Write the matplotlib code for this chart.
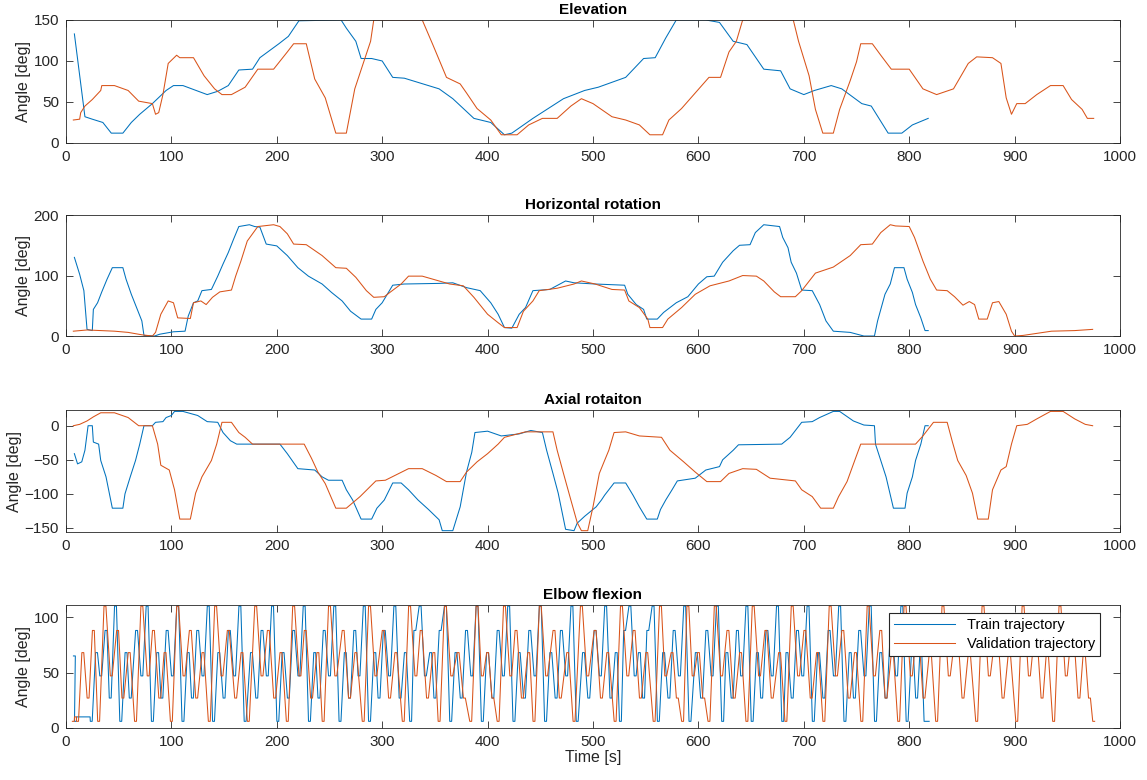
import numpy as np
import matplotlib.pyplot as plt

plt.rcParams['font.family'] = ['Liberation Sans', 'DejaVu Sans']

train_color = '#0072BD'
val_color = '#D95319'
axis_color = '#262626'

# ---- Elevation ----
elev_train_t = [8, 18, 25, 35, 43, 54, 62, 70, 82, 95, 102, 111, 134, 144, 154, 164, 177,
                184, 202, 211, 221, 261, 266, 275, 280, 290, 300, 310, 321, 354, 367, 387,
                403, 416, 423, 443, 472, 492, 505, 531, 548, 559, 569, 579, 607, 620, 633,
                646, 662, 678, 687, 700, 710, 726, 736, 755, 764, 780, 793, 803, 818]
elev_train_v = [133, 32, 29, 25, 12, 12, 25, 35, 48, 64, 70, 70, 59, 63, 70, 89, 90,
                104, 121, 130, 149, 150, 140, 124, 103, 103, 100, 80, 79, 66, 54, 30,
                25, 10, 12, 30, 54, 64, 68, 80, 103, 104, 128, 150, 150, 147, 124,
                120, 90, 88, 66, 59, 64, 70, 66, 48, 45, 12, 12, 22, 30]
elev_val_t = [7, 13, 14, 18, 25, 33, 34, 46, 59, 69, 82, 85, 88, 92, 97, 105, 108, 121, 131,
              141, 148, 157, 170, 182, 197, 210, 216, 228, 236, 246, 256, 266, 274, 282, 289,
              292, 338, 348, 361, 374, 380, 390, 403, 413, 428, 439, 452, 466, 479, 489, 500,
              518, 531, 544, 554, 566, 572, 584, 597, 610, 621, 629, 636, 642, 690, 695, 705,
              711, 718, 728, 734, 744, 750, 754, 765, 773, 783, 800, 813, 826, 842, 856, 864,
              879, 887, 892, 897, 902, 910, 921, 934, 946, 954, 964, 969, 975]
elev_val_v = [28, 29, 37, 45, 53, 64, 70, 70, 64, 51, 48, 35, 37, 59, 97, 107, 104, 104, 82,
              66, 59, 59, 68, 90, 90, 111, 121, 121, 78, 55, 12, 12, 66, 97, 124,
              150, 150, 120, 80, 72, 61, 42, 28, 10, 10, 22, 30, 30, 45, 54, 48,
              32, 28, 22, 10, 10, 28, 42, 61, 80, 80, 111, 124, 150, 150, 124, 82,
              41, 12, 12, 41, 76, 99, 121, 121, 107, 90, 90, 66, 59, 66, 97, 105,
              104, 97, 55, 35, 48, 48, 59, 70, 70, 53, 41, 30, 30]

# ---- Horizontal rotation ----
horiz_train_t = [8, 13, 17, 20, 25, 26, 30, 34, 39, 44, 54, 57, 62, 67, 72, 74, 84, 89, 102,
                 113, 116, 121, 125, 129, 138, 144, 149, 154, 159, 164, 174, 179, 184, 190,
                 200, 210, 220, 230, 243, 252, 262, 270, 280, 290, 294, 300, 310, 321, 354,
                 367, 380, 393, 403, 410, 416, 423, 430, 436, 443, 459, 474, 482, 502, 530,
                 533, 541, 548, 551, 561, 567, 579, 590, 600, 608, 615, 623, 633, 639, 649,
                 654, 662, 677, 680, 685, 688, 693, 698, 708, 715, 721, 728, 744, 757, 767,
                 770, 777, 782, 786, 795, 798, 803, 806, 811, 815, 818]
horiz_train_v = [130, 102, 75, 11, 9, 44, 55, 73, 94, 113, 113, 94, 69, 47, 25, 1, 0, 3, 7,
                 8, 33, 55, 58, 75, 77, 99, 119, 138, 160, 181, 184, 181, 180, 152,
                 149, 133, 113, 99, 86, 72, 58, 41, 28, 28, 44, 55, 84, 86, 87,
                 88, 80, 75, 55, 36, 14, 13, 36, 47, 75, 77, 91, 88, 86, 84,
                 69, 52, 44, 28, 28, 39, 55, 65, 86, 98, 99, 122, 141, 150, 151,
                 171, 184, 181, 163, 146, 122, 104, 76, 75, 52, 25, 8, 6, 0, 0,
                 25, 69, 86, 113, 113, 94, 72, 52, 30, 9, 9]
horiz_val_t = [7, 20, 46, 59, 72, 82, 85, 90, 97, 102, 106, 118, 121, 128, 133, 139, 146,
               157, 161, 166, 172, 177, 182, 197, 203, 210, 216, 228, 243, 256, 266, 275,
               285, 292, 302, 308, 318, 325, 338, 348, 364, 377, 387, 400, 410, 416, 428,
               434, 443, 449, 466, 482, 489, 502, 518, 530, 534, 544, 552, 554, 566, 571,
               584, 597, 611, 629, 642, 655, 662, 672, 678, 692, 698, 711, 728, 744, 754,
               765, 773, 782, 787, 800, 805, 813, 820, 826, 836, 843, 851, 857, 862, 866,
               874, 879, 885, 892, 897, 900, 908, 935, 957, 974]
horiz_val_v = [8, 10, 8, 6, 2, 0, 6, 36, 58, 55, 30, 29, 55, 58, 52, 64, 73,
               76, 99, 124, 157, 169, 181, 184, 181, 169, 152, 151, 133, 113, 112, 97,
               75, 64, 65, 73, 86, 99, 99, 94, 86, 83, 64, 36, 22, 14, 14,
               41, 58, 75, 79, 86, 91, 86, 77, 76, 58, 47, 28, 14, 14, 28,
               47, 69, 83, 91, 100, 99, 91, 73, 65, 65, 75, 104, 114, 133, 151,
               152, 171, 184, 182, 181, 163, 124, 94, 76, 75, 65, 51, 57, 52, 28,
               28, 55, 57, 36, 8, 0, 1, 8, 9, 11]

# ---- Axial rotation ----
axial_train_t = [8, 11, 15, 18, 21, 25, 26, 31, 33, 38, 41, 44, 54, 56, 61, 66, 70, 74, 82,
                 85, 92, 95, 100, 103, 111, 125, 134, 144, 149, 156, 162, 203, 210, 220,
                 236, 243, 249, 262, 266, 272, 280, 290, 295, 302, 310, 318, 325, 334,
                 344, 354, 357, 367, 374, 380, 385, 388, 400, 413, 430, 441, 452, 456,
                 462, 467, 474, 482, 485, 492, 503, 508, 511, 516, 520, 531, 538, 544,
                 551, 561, 564, 569, 575, 580, 597, 607, 620, 623, 633, 638, 679, 687,
                 692, 698, 708, 715, 728, 734, 747, 757, 767, 768, 773, 778, 785, 796,
                 798, 803, 806, 811, 815, 818]
axial_train_v = [-41, -56, -53, -36, 0, 0, -24, -27, -51, -75, -98, -121, -121, -100, -75,
                 -51, -27, 0, 0, 5, 6, 12, 15, 21, 21, 15, 6, 5, -10, -22, -27, -27, -41,
                 -63, -65, -75, -80, -80, -94, -109, -137, -137, -121, -109, -84, -84,
                 -94, -109, -123, -138, -154, -154, -119, -68, -39, -10, -8, -15, -12,
                 -7, -10, -36, -70, -99, -152, -154, -143, -133, -119, -109, -102, -92,
                 -84, -84, -102, -119, -137, -137, -123, -109, -94, -81, -77, -65, -60,
                 -50, -36, -28, -27, -17, -7, 5, 6, 12, 21, 21, 7, 1, 0, -27, -51, -75,
                 -121, -121, -99, -75, -51, -27, 0, 0]
axial_val_t = [7, 13, 20, 26, 33, 46, 59, 69, 82, 87, 90, 98, 103, 108, 118, 123, 129, 138,
               143, 148, 157, 164, 170, 177, 226, 233, 239, 246, 256, 266, 279, 294, 303,
               325, 338, 351, 361, 374, 380, 390, 400, 410, 416, 436, 462, 466, 472, 479,
               485, 489, 495, 500, 506, 511, 515, 520, 531, 544, 565, 573, 586, 597, 608,
               621, 629, 642, 655, 668, 692, 698, 708, 716, 728, 733, 741, 749, 754, 806,
               813, 818, 823, 836, 841, 846, 854, 860, 865, 875, 879, 887, 892, 897, 902,
               912, 921, 934, 946, 957, 967, 974]
axial_val_v = [0, 2, 7, 13, 19, 19, 12, 0, 0, -27, -58, -65, -94, -137, -137, -99, -75,
               -51, -27, 5, 5, -10, -17, -27, -27, -48, -68, -85, -121, -121, -104, -81,
               -80, -63, -63, -73, -82, -82, -68, -53, -41, -27, -17, -9, -9, -36, -70,
               -109, -142, -154, -154, -119, -70, -51, -36, -10, -9, -15, -17, -36, -53,
               -68, -82, -82, -70, -63, -64, -77, -81, -94, -104, -121, -121, -104, -82,
               -48, -27, -27, -15, -5, 5, 5, -24, -51, -73, -99, -137, -137, -94, -65,
               -60, -27, 0, 2, 10, 21, 21, 10, 2, 0]

# ---- Elbow flexion (turning points) ----
elbow_train_t = [8, 9, 11, 22, 24, 29, 33, 38, 42, 47, 52, 57, 61, 67, 72, 77, 82, 87, 91, 96,
                 101, 106, 111, 116, 120, 125, 130, 135, 140, 145, 150, 155, 160, 165, 170,
                 176, 181, 186, 191, 196, 201, 206, 211, 216, 221, 226, 231, 236, 240, 245,
                 250, 255, 260, 265, 269, 274, 278, 283, 288, 293, 297, 302, 307, 312, 317,
                 322, 327, 331, 336, 341, 346, 350, 355, 360, 365, 370, 375, 380, 385, 390,
                 395, 400, 405, 410, 415, 420, 425, 430, 435, 440, 445, 450, 455, 460, 465,
                 470, 475, 480, 485, 491, 496, 502, 507, 512, 517, 522, 526, 530, 535, 540,
                 544, 548, 552, 557, 562, 567, 572, 577, 582, 587, 592, 598, 603, 608, 613,
                 618, 623, 627, 632, 637, 641, 646, 651, 656, 660, 665, 670, 675, 680, 684,
                 689, 694, 699, 704, 709, 714, 719, 724, 729, 734, 739, 744, 748, 753, 758,
                 763, 768, 773, 778, 783, 788, 793, 798, 803, 807, 811, 815, 818]
elbow_train_v = [65, 6, 10, 10, 6, 68, 47, 88, 27, 110, 6, 68, 27, 88, 47, 110, 6, 68, 27, 88,
                 47, 110, 6, 68, 27, 88, 47, 110, 6, 68, 27, 88, 47, 110, 6,
                 68, 27, 88, 47, 110, 6, 68, 27, 88, 47, 110, 6, 68, 27, 88,
                 47, 110, 6, 68, 27, 88, 47, 110, 6, 68, 27, 88, 47, 110, 27,
                 68, 6, 88, 110, 47, 68, 27, 88, 110, 6, 68, 27, 88, 47, 110,
                 6, 68, 27, 88, 47, 110, 6, 68, 27, 88, 47, 110, 6, 68, 27,
                 88, 47, 110, 6, 68, 27, 88, 47, 110, 27, 68, 6, 88, 110, 47,
                 68, 27, 88, 110, 6, 68, 27, 88, 47, 110, 6, 68, 27, 88, 47,
                 110, 6, 68, 27, 88, 47, 110, 6, 68, 27, 88, 47, 110, 6, 68,
                 27, 88, 47, 110, 6, 68, 27, 88, 47, 110, 6, 68, 27, 88, 47,
                 110, 6, 68, 27, 88, 47, 110, 6, 68, 27, 68, 6, 6]
elbow_val_t = [7, 9, 11, 16, 21, 26, 31, 37, 43, 49, 54, 60, 66, 72, 78, 83, 89, 94, 100,
               106, 112, 118, 124, 130, 136, 142, 148, 154, 161, 167, 173, 180, 186, 192,
               198, 204, 210, 216, 222, 227, 233, 239, 244, 250, 256, 263, 269, 275, 282,
               288, 294, 301, 307, 313, 320, 326, 332, 337, 343, 349, 354, 360, 366, 372,
               378, 384, 390, 395, 400, 405, 410, 416, 422, 427, 433, 439, 444, 450, 456,
               463, 469, 476, 482, 489, 495, 502, 508, 514, 521, 527, 533, 539, 545, 551,
               558, 564, 569, 575, 580, 585, 590, 595, 600, 605, 610, 616, 622, 628, 634,
               640, 646, 652, 658, 664, 670, 677, 683, 689, 695, 701, 707, 713, 719, 725,
               731, 737, 743, 749, 755, 761, 767, 773, 778, 784, 790, 796, 802, 808, 814,
               820, 826, 832, 838, 845, 851, 857, 864, 870, 876, 883, 889, 895, 902, 908,
               914, 920, 926, 931, 937, 943, 949, 955, 961, 966, 971, 975]
elbow_val_v = [6, 10, 6, 68, 27, 88, 6, 110, 47, 88, 27, 68, 6, 110, 47, 88, 27, 68, 6,
               110, 47, 88, 27, 68, 6, 110, 47, 88, 27, 68, 6, 110, 47, 88,
               27, 68, 6, 110, 47, 88, 27, 68, 6, 110, 47, 88, 27, 68, 6,
               110, 47, 88, 27, 68, 6, 110, 47, 88, 27, 68, 6, 110, 47, 68,
               27, 6, 110, 47, 68, 27, 6, 110, 47, 88, 27, 68, 6, 110, 47,
               88, 27, 68, 6, 110, 47, 88, 27, 68, 6, 110, 47, 88, 27, 68,
               6, 110, 47, 68, 27, 6, 110, 47, 68, 27, 6, 110, 47, 88, 27,
               68, 6, 110, 47, 88, 27, 68, 6, 110, 47, 88, 27, 68, 6, 110,
               47, 88, 27, 68, 6, 110, 47, 88, 27, 68, 6, 110, 47, 88, 27,
               68, 6, 110, 47, 88, 27, 68, 6, 110, 47, 88, 27, 68, 6, 110,
               47, 88, 27, 68, 6, 110, 47, 88, 27, 68, 27, 6]
assert len(elbow_train_t) == len(elbow_train_v), (len(elbow_train_t), len(elbow_train_v))
assert len(elbow_val_t) == len(elbow_val_v), (len(elbow_val_t), len(elbow_val_v))


def with_plateaus(t, v, half=0.9):
    # hold each turning point for a short moment, as the joint does
    tt, vv = [], []
    for ti, vi in zip(t, v):
        tt += [ti - half, ti + half]
        vv += [vi, vi]
    return tt, vv


panels = [
    ('Elevation', elev_train_t, elev_train_v, elev_val_t, elev_val_v, (0, 150), [0, 50, 100, 150]),
    ('Horizontal rotation', horiz_train_t, horiz_train_v, horiz_val_t, horiz_val_v, (0, 200), [0, 100, 200]),
    ('Axial rotaiton', axial_train_t, axial_train_v, axial_val_t, axial_val_v, (-156, 23), [-150, -100, -50, 0]),
]

fig = plt.figure(figsize=(11.47, 7.8), dpi=100)
boxes = [(0.0575, 0.8167, 0.919, 0.1577),
         (0.0575, 0.5692, 0.919, 0.1551),
         (0.0575, 0.3179, 0.919, 0.1564),
         (0.0575, 0.0667, 0.919, 0.1577)]
axes = [fig.add_axes(b) for b in boxes]

for ax, (title, tt, tv, vt, vv, ylim, yticks) in zip(axes[:3], panels):
    ax.plot(tt, tv, color=train_color, lw=0.75)
    ax.plot(vt, vv, color=val_color, lw=0.75)
    ax.set_ylim(*ylim)
    ax.set_yticks(yticks)
    ax.set_title(title, fontsize=11, fontweight='bold', color='black', pad=4)

ax = axes[3]
bt, bv = with_plateaus(elbow_train_t, elbow_train_v)
ot, ov = with_plateaus(elbow_val_t, elbow_val_v)
ax.plot(bt, bv, color=train_color, lw=0.75, label='Train trajectory')
ax.plot(ot, ov, color=val_color, lw=0.75, label='Validation trajectory')
ax.set_ylim(0, 111)
ax.set_yticks([0, 50, 100])
ax.set_title('Elbow flexion', fontsize=11, fontweight='bold', color='black', pad=4)
ax.set_xlabel('Time [s]', fontsize=11.5, color=axis_color, labelpad=1)
leg = ax.legend(loc='upper right', bbox_to_anchor=(0.981, 0.935), fontsize=10.5,
                fancybox=False, framealpha=1, edgecolor=axis_color,
                handlelength=4.2, borderpad=0.35, labelspacing=0.35, borderaxespad=0)
leg.get_frame().set_linewidth(0.8)

for ax in axes:
    ax.set_xlim(0, 1000)
    ax.set_xticks(range(0, 1001, 100))
    ax.set_ylabel('Angle [deg]', fontsize=11.5, color=axis_color, labelpad=2)
    ax.tick_params(direction='in', length=5, width=0.6, top=True, right=True,
                   labelsize=11, colors=axis_color, pad=5)
    for s in ax.spines.values():
        s.set_color(axis_color)
        s.set_linewidth(0.6)

fig.savefig('out.png', dpi=100)
